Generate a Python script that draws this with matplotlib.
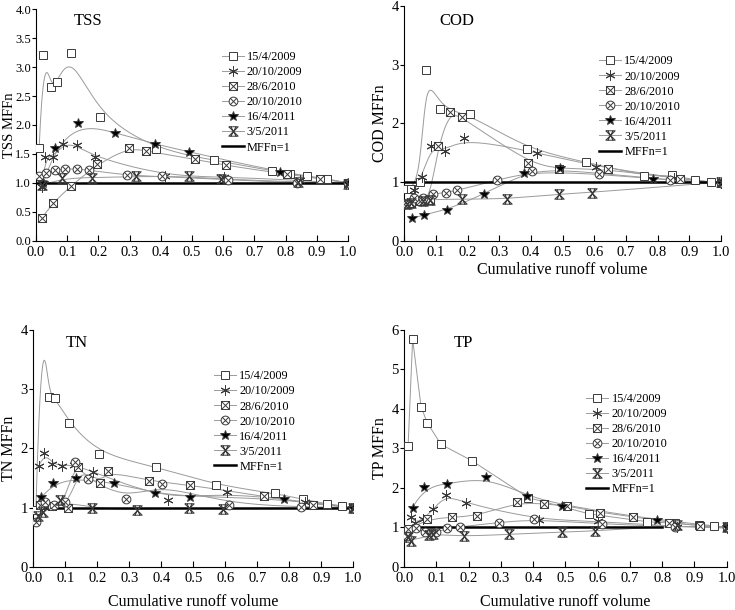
import numpy as np
import matplotlib
matplotlib.use('Agg')
import matplotlib.pyplot as plt
from matplotlib.path import Path
from matplotlib.lines import Line2D

plt.rcParams['font.family'] = ['Liberation Serif', 'DejaVu Serif']

dates = ['15/4/2009', '20/10/2009', '28/6/2010', '20/10/2010', '16/4/2011', '3/5/2011']

# ---- TSS ----
tss_x = [
    [0.01, 0.023, 0.048, 0.067, 0.112, 0.204, 0.385, 0.571, 0.755, 0.814, 0.867, 0.933, 1.0],
    [0.018, 0.029, 0.055, 0.087, 0.13, 0.19, 0.415, 0.603, 0.845, 1.0],
    [0.018, 0.055, 0.112, 0.197, 0.297, 0.353, 0.51, 0.608, 0.803, 0.91, 1.0],
    [0.008, 0.032, 0.061, 0.093, 0.13, 0.169, 0.293, 0.403, 0.614, 0.837, 1.0],
    [0.023, 0.061, 0.133, 0.252, 0.38, 0.489, 0.782, 1.0],
    [0.02, 0.082, 0.181, 0.321, 0.489, 0.593, 0.84, 1.0],
]
tss_y = [
    [1.6, 3.21, 2.65, 2.74, 3.24, 2.14, 1.58, 1.39, 1.21, 1.16, 1.12, 1.07, 1.0],
    [0.93, 1.45, 1.45, 1.67, 1.65, 1.44, 1.12, 1.10, 1.05, 0.98],
    [0.39, 0.66, 0.95, 1.32, 1.61, 1.55, 1.41, 1.30, 1.15, 1.07, 1.0],
    [1.11, 1.17, 1.22, 1.24, 1.24, 1.22, 1.13, 1.11, 1.05, 1.0, 1.0],
    [1.0, 1.6, 2.03, 1.87, 1.67, 1.54, 1.18, 1.0],
    [0.96, 1.08, 1.09, 1.11, 1.11, 1.06, 1.02, 0.98],
]

# ---- COD ----
cod_x = [
    [0.002, 0.021, 0.05, 0.068, 0.113, 0.207, 0.386, 0.574, 0.758, 0.846, 0.919, 0.968, 1.0],
    [0.01, 0.03, 0.055, 0.086, 0.128, 0.188, 0.42, 0.605, 0.85, 1.0],
    [0.005, 0.02, 0.05, 0.08, 0.107, 0.144, 0.181, 0.392, 0.49, 0.644, 0.87, 1.0],
    [0.0, 0.03, 0.06, 0.092, 0.131, 0.168, 0.292, 0.404, 0.616, 0.839, 1.0],
    [0.023, 0.062, 0.134, 0.253, 0.379, 0.492, 0.784, 1.0],
    [0.01, 0.02, 0.06, 0.08, 0.181, 0.323, 0.49, 0.594, 1.0],
]
cod_y = [
    [0.88, 0.88, 1.0, 2.91, 2.24, 2.16, 1.56, 1.34, 1.10, 1.12, 1.03, 1.0, 0.98],
    [0.65, 0.86, 1.08, 1.61, 1.53, 1.75, 1.5, 1.26, 1.07, 0.98],
    [0.63, 0.65, 0.68, 0.70, 1.61, 2.2, 2.11, 1.32, 1.22, 1.23, 1.05, 0.98],
    [0.62, 0.72, 0.72, 0.80, 0.82, 0.86, 1.03, 1.18, 1.14, 1.03, 0.98],
    [0.38, 0.44, 0.52, 0.80, 1.15, 1.24, 1.05, 0.98],
    [0.63, 0.65, 0.68, 0.70, 0.71, 0.71, 0.80, 0.82, 1.0],
]

# ---- TN ----  (second point of 15/4/2009 lies above the axis top)
tn_x = [
    [0.008, 0.025, 0.048, 0.069, 0.113, 0.206, 0.383, 0.571, 0.755, 0.842, 0.917, 0.964, 1.0],
    [0.017, 0.035, 0.059, 0.09, 0.128, 0.188, 0.42, 0.604, 0.85, 1.0],
    [0.02, 0.06, 0.11, 0.141, 0.208, 0.234, 0.36, 0.49, 0.72, 0.875, 1.0],
    [0.008, 0.038, 0.065, 0.098, 0.131, 0.17, 0.29, 0.403, 0.613, 0.835, 1.0],
    [0.025, 0.062, 0.134, 0.252, 0.38, 0.49, 0.783, 1.0],
    [0.015, 0.03, 0.084, 0.183, 0.323, 0.486, 0.592, 1.0],
]
tn_y = [
    [0.95, 4.2, 2.86, 2.85, 2.43, 1.90, 1.69, 1.38, 1.24, 1.14, 1.06, 1.03, 1.0],
    [1.70, 1.92, 1.74, 1.71, 1.72, 1.60, 1.12, 1.27, 1.10, 0.99],
    [1.05, 1.02, 0.99, 1.69, 1.41, 1.62, 1.45, 1.38, 1.19, 1.05, 1.0],
    [0.76, 1.10, 1.05, 1.10, 1.77, 1.48, 1.15, 1.40, 1.04, 1.01, 1.0],
    [1.17, 1.41, 1.50, 1.41, 1.25, 1.18, 1.15, 1.0],
    [0.85, 0.92, 1.12, 0.99, 0.96, 1.0, 0.97, 1.0],
]

# ---- TP ----
tp_x = [
    [0.012, 0.026, 0.052, 0.071, 0.114, 0.209, 0.385, 0.573, 0.754, 0.84, 0.915, 0.962, 1.0],
    [0.021, 0.033, 0.057, 0.09, 0.129, 0.191, 0.419, 0.602, 0.845, 1.0],
    [0.012, 0.071, 0.147, 0.226, 0.351, 0.433, 0.504, 0.607, 0.71, 0.822, 0.917, 1.0],
    [0.01, 0.035, 0.064, 0.097, 0.133, 0.173, 0.293, 0.402, 0.614, 0.84, 1.0],
    [0.026, 0.062, 0.134, 0.254, 0.382, 0.49, 0.785, 1.0],
    [0.012, 0.022, 0.078, 0.09, 0.186, 0.324, 0.49, 0.592, 0.845, 1.0],
]
tp_y = [
    [3.07, 5.77, 4.06, 3.65, 3.10, 2.69, 1.75, 1.34, 1.14, 1.10, 1.05, 1.02, 1.0],
    [1.27, 1.10, 1.20, 1.45, 1.82, 1.61, 1.18, 1.16, 1.01, 0.98],
    [0.95, 1.21, 1.25, 1.29, 1.63, 1.59, 1.55, 1.37, 1.27, 1.12, 1.03, 1.0],
    [0.78, 0.97, 0.87, 0.87, 0.97, 1.01, 1.12, 1.20, 1.08, 1.01, 1.0],
    [1.5, 2.02, 2.1, 2.27, 1.8, 1.55, 1.18, 1.0],
    [0.75, 0.65, 0.80, 0.82, 0.77, 0.82, 0.88, 0.90, 1.05, 1.0],
]

# name, x, y, ymax, ystep, ytick format, ylabel, has xlabel, end of MFFn=1 line, smoothed series
panels = [
    ('TSS', tss_x, tss_y, 4.0, 0.5, '%.1f', 'TSS MFFn', False, 1.0, [1, 1, 1, 1, 1, 1]),
    ('COD', cod_x, cod_y, 4, 1, '%d', 'COD MFFn', True, 1.0, [1, 1, 1, 1, 1, 1]),
    ('TN', tn_x, tn_y, 4, 1, '%d', 'TN MFFn', True, 1.0, [1, 1, 1, 1, 1, 1]),
    ('TP', tp_x, tp_y, 6, 1, '%d', 'TP MFFn', True, 0.8, [0, 1, 1, 1, 1, 1]),
]

# custom markers
sq = [(-1, -1), (1, -1), (1, 1), (-1, 1), (-1, -1)]
box_x = Path(sq + [(-1, -1), (1, 1), (-1, 1), (1, -1)],
             [Path.MOVETO, Path.LINETO, Path.LINETO, Path.LINETO, Path.CLOSEPOLY,
              Path.MOVETO, Path.LINETO, Path.MOVETO, Path.LINETO])
c = 0.7071
circ_x = Path.make_compound_path(
    Path.unit_circle(),
    Path([(-c, -c), (c, c)], [Path.MOVETO, Path.LINETO]),
    Path([(-c, c), (c, -c)], [Path.MOVETO, Path.LINETO]))
hour = Path([(-1, 1), (1, 1), (-1, -1), (1, -1), (-1, 1),
             (-0.55, 1), (0.55, -1), (0.55, 1), (-0.55, -1)],
            [Path.MOVETO, Path.LINETO, Path.LINETO, Path.LINETO, Path.LINETO,
             Path.MOVETO, Path.LINETO, Path.MOVETO, Path.LINETO])

styles = [
    dict(marker='s', mfc='white', ms=5.4),
    dict(marker=(6, 2, 0), mfc='none', ms=7.2),
    dict(marker=box_x, mfc='white', ms=5.8),
    dict(marker=circ_x, mfc='white', ms=6.3),
    dict(marker='*', mfc='black', ms=7.5),
    dict(marker=hour, mfc='none', ms=6.8),
]
mark_ec = '#3a3a3a'
line_c = '#9a9a9a'


def bspline(x, y, n=300):
    # clamped cubic B-spline using the points as control points
    pts = np.column_stack([x, y]).astype(float)
    m = len(pts)
    k = 3
    knots = np.concatenate([np.zeros(k), np.arange(0, m - k + 1), np.full(k, m - k)]).astype(float)
    ts = np.linspace(0, m - k, n)
    out = []
    for t in ts:
        j = np.searchsorted(knots, t, side='right') - 1
        j = min(j, m - 1)
        d = [pts[j - k + r].copy() for r in range(k + 1)]
        for r in range(1, k + 1):
            for i in range(k, r - 1, -1):
                den = knots[i + 1 + j - r] - knots[i + j - k]
                a = 0.0 if den == 0 else (t - knots[i + j - k]) / den
                d[i] = (1 - a) * d[i - 1] + a * d[i]
        out.append(d[k])
    out = np.array(out)
    return out[:, 0], out[:, 1]


fig = plt.figure(figsize=(7.35, 6.10), dpi=100)
boxes = [
    [0.0490, 0.6054, 0.4245, 0.3794],
    [0.5500, 0.6054, 0.4310, 0.3848],
    [0.0453, 0.0710, 0.4354, 0.3880],
    [0.5500, 0.0710, 0.4387, 0.3880],
]
name_pos = [(0.12, 0.93), (0.11, 0.92), (0.10, 0.93), (0.152, 0.93)]
leg_pos = [(0.58, 0.84), (0.60, 0.81), (0.55, 0.85), (0.55, 0.755)]
xlab_pad = [0, 3, 7, 7]
ylab_x = [-0.063, -0.05, -0.05, -0.05]
ytick_size = [9, 10.5, 10.5, 10.5]
ylab_size = [10.5, 11.5, 11.5, 11.5]
ytick_pad = [0.5, 1, 1, 1]

for (name, xs, ys, ymax, ystep, yfmt, ylab, xl, line_end, smooth), box, npos, lpos, xpad, ylx, yts, yls, ypd in zip(
        panels, boxes, name_pos, leg_pos, xlab_pad, ylab_x, ytick_size, ylab_size, ytick_pad):
    ax = fig.add_axes(box)
    handles = []
    for xv, yv, st, lab, sm in zip(xs, ys, styles, dates, smooth):
        if sm:
            bx, by = bspline(xv, yv)
        else:
            bx, by = xv, yv
        ax.plot(bx, by, color=line_c, lw=0.7, zorder=2)
        ax.plot(xv, yv, ls='none', marker=st['marker'], ms=st['ms'], mfc=st['mfc'],
                mec=mark_ec, mew=0.7, zorder=4)
        handles.append(Line2D([], [], color=line_c, lw=0.7, marker=st['marker'],
                              ms=st['ms'], mfc=st['mfc'], mec=mark_ec, mew=0.7, label=lab))
    ax.plot([0, line_end], [1, 1], color='black', lw=1.8, zorder=3)
    handles.append(Line2D([], [], color='black', lw=1.8, label='MFFn=1'))

    ax.set_xlim(0, 1.0)
    ax.set_ylim(0, ymax)
    ax.set_xticks(np.arange(0, 1.01, 0.1))
    ax.set_xticklabels(['%.1f' % v for v in np.arange(0, 1.01, 0.1)])
    yt = np.arange(0, ymax + 0.001, ystep)
    ax.set_yticks(yt)
    ax.set_yticklabels([yfmt % v for v in yt])
    ax.spines['top'].set_visible(False)
    ax.spines['right'].set_visible(False)
    ax.tick_params(axis='x', direction='in', length=4, labelsize=10.5, pad=4)
    ax.tick_params(axis='y', direction='out', length=3, labelsize=yts, pad=ypd)
    ax.set_ylabel(ylab, fontsize=yls)
    ax.yaxis.set_label_coords(ylx, 0.5)
    if xl:
        ax.set_xlabel('Cumulative runoff volume', fontsize=11.5, labelpad=xpad - 1)
    ax.text(npos[0], npos[1], name, transform=ax.transAxes, fontsize=12)
    ax.legend(handles=handles, loc='upper left', bbox_to_anchor=lpos, frameon=False,
              fontsize=8.8, handlelength=1.8, handletextpad=0.25, labelspacing=0.25,
              borderaxespad=0)

fig.savefig('out.png', dpi=100)
